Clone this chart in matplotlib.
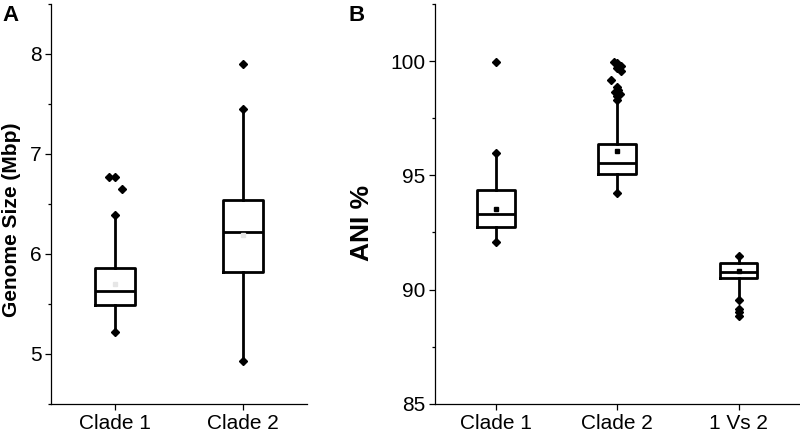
import matplotlib.pyplot as plt
from matplotlib.ticker import MultipleLocator

plt.rcParams['font.family'] = ['Liberation Sans', 'DejaVu Sans']

# panel A: genome size (Mbp)
a_labels = ['Clade 1', 'Clade 2']
a_q1 = [5.49, 5.82]
a_med = [5.63, 6.22]
a_q3 = [5.86, 6.54]
a_mean = [5.70, 6.19]
a_whislo = [5.22, 4.93]
a_whishi = [6.39, 7.45]
a_fliers = [[6.77, 6.77, 6.65], [7.90]]
a_flier_dx = [[-0.05, 0.0, 0.05], [0.0]]

# panel B: ANI %
b_labels = ['Clade 1', 'Clade 2', '1 Vs 2']
b_q1 = [92.76, 95.07, 90.50]
b_med = [93.30, 95.53, 90.79]
b_q3 = [94.34, 96.37, 91.17]
b_mean = [93.52, 96.05, 90.80]
b_whislo = [92.09, 94.24, 89.55]
b_whishi = [95.96, 98.30, 91.45]
b_fliers = [[99.94],
            [98.45, 98.55, 98.65, 98.75, 98.87, 99.17, 99.55, 99.68, 99.80, 99.92, 99.97],
            [89.14, 89.0, 88.86]]
b_flier_dx = [[0.0],
              [0.0, 0.02, -0.02, 0.01, 0.0, -0.05, 0.03, 0.0, 0.03, 0.0, -0.03],
              [0.0, 0.0, 0.0]]


def draw_panel(ax, labels, q1, med, q3, mean, lo, hi, fliers, dx, mean_color):
    pos = list(range(1, len(labels) + 1))
    stats = []
    for i in range(len(labels)):
        stats.append({'q1': q1[i], 'med': med[i], 'q3': q3[i], 'whislo': lo[i],
                      'whishi': hi[i], 'fliers': [], 'label': labels[i]})
    lw = 2.0
    ax.bxp(stats, positions=pos, widths=0.31, showcaps=False, showfliers=False,
           boxprops=dict(color='black', linewidth=lw),
           whiskerprops=dict(color='black', linewidth=lw),
           medianprops=dict(color='black', linewidth=lw))
    ax.plot(pos, lo, 'D', color='black', markersize=4.5, zorder=4)
    ax.plot(pos, hi, 'D', color='black', markersize=4.5, zorder=4)
    ax.plot(pos, mean, 's', color=mean_color, markersize=3, zorder=4)
    for i, fl in enumerate(fliers):
        xs = [pos[i] + d for d in dx[i]]
        ax.plot(xs, fl, 'D', color='black', markersize=4.5, zorder=4)
    for s in ['top', 'right']:
        ax.spines[s].set_visible(False)
    for s in ['left', 'bottom']:
        ax.spines[s].set_linewidth(0.9)
    ax.set_xticks(pos)
    ax.set_xticklabels(labels)
    ax.set_xlim(0.5, len(labels) + 0.5)
    ax.tick_params(axis='both', which='major', length=4.5, width=0.9,
                   labelsize=15, pad=2.5)
    ax.tick_params(axis='y', which='minor', length=2.5, width=0.9)
    ax.tick_params(axis='x', which='minor', length=0)


fig = plt.figure(figsize=(8, 4.32), dpi=100)
ax1 = fig.add_axes([0.064, 0.065, 0.320, 0.926])
ax2 = fig.add_axes([0.544, 0.065, 0.455, 0.926])

draw_panel(ax1, a_labels, a_q1, a_med, a_q3, a_mean, a_whislo, a_whishi,
           a_fliers, a_flier_dx, '#e6e6e6')
ax1.set_ylim(4.5, 8.5)
ax1.yaxis.set_major_locator(MultipleLocator(1))
ax1.yaxis.set_minor_locator(MultipleLocator(0.5))
ax1.set_ylabel('Genome Size (Mbp)', fontsize=15, fontweight='bold')
ax1.yaxis.set_label_coords(-0.117, 0.461)

draw_panel(ax2, b_labels, b_q1, b_med, b_q3, b_mean, b_whislo, b_whishi,
           b_fliers, b_flier_dx, 'black')
ax2.set_ylim(85, 102.5)
ax2.yaxis.set_major_locator(MultipleLocator(5))
ax2.yaxis.set_minor_locator(MultipleLocator(2.5))
ax2.set_ylabel('ANI %', fontsize=19, fontweight='bold')
ax2.yaxis.set_label_coords(-0.167, 0.452)

fig.text(0.003, 0.988, 'A', fontsize=16, fontweight='bold', va='top', ha='left')
fig.text(0.436, 0.988, 'B', fontsize=16, fontweight='bold', va='top', ha='left')

fig.savefig('out.png', dpi=100)
